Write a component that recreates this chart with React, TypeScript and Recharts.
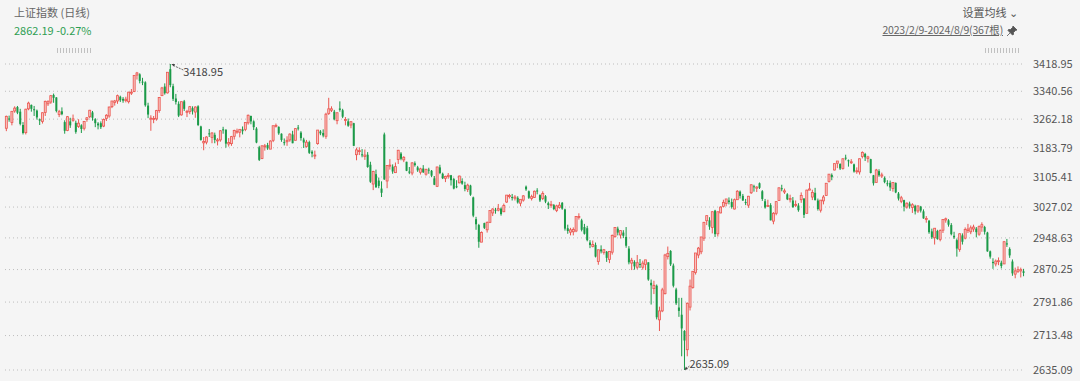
import React from "react";
import { ComposedChart, Bar, XAxis, YAxis, CartesianGrid } from "recharts";

// [day, open, high, low, close]
type Row = [number, number, number, number, number];

const feb23: Row[] = [
  [9, 3237, 3272, 3229, 3270], [10, 3264, 3272, 3255, 3261], [13, 3253, 3285, 3245, 3284],
  [14, 3285, 3298, 3280, 3293], [15, 3296, 3299, 3276, 3280], [16, 3283, 3291, 3245, 3249],
  [17, 3246, 3254, 3220, 3224], [20, 3225, 3291, 3220, 3290], [21, 3291, 3311, 3287, 3307],
  [22, 3302, 3303, 3283, 3291], [23, 3290, 3299, 3271, 3287], [24, 3286, 3289, 3261, 3267],
  [27, 3262, 3264, 3246, 3258], [28, 3256, 3281, 3250, 3280],
];
const mar23: Row[] = [
  [1, 3281, 3314, 3271, 3312], [2, 3305, 3315, 3299, 3311], [3, 3310, 3330, 3305, 3328],
  [6, 3330, 3334, 3308, 3322], [7, 3323, 3324, 3281, 3285], [8, 3275, 3288, 3268, 3283],
  [9, 3284, 3295, 3273, 3276], [10, 3254, 3259, 3222, 3230], [13, 3231, 3271, 3229, 3269],
  [14, 3256, 3266, 3238, 3245], [15, 3259, 3275, 3255, 3263], [16, 3252, 3258, 3222, 3227],
  [17, 3242, 3262, 3238, 3251], [20, 3245, 3248, 3224, 3235], [21, 3237, 3257, 3231, 3256],
  [22, 3261, 3268, 3255, 3266], [23, 3269, 3288, 3265, 3287], [24, 3281, 3285, 3258, 3266],
  [27, 3262, 3265, 3240, 3251], [28, 3250, 3254, 3234, 3245], [29, 3251, 3256, 3235, 3240],
  [30, 3243, 3264, 3240, 3261], [31, 3264, 3276, 3257, 3273],
];
const apr23: Row[] = [
  [3, 3271, 3297, 3266, 3296], [4, 3297, 3313, 3293, 3313], [6, 3309, 3316, 3300, 3313],
  [7, 3313, 3331, 3305, 3328], [10, 3325, 3328, 3310, 3315], [11, 3319, 3324, 3308, 3314],
  [12, 3314, 3325, 3309, 3318], [13, 3311, 3339, 3306, 3338], [14, 3337, 3347, 3330, 3338],
  [17, 3340, 3386, 3338, 3386], [18, 3387, 3396, 3374, 3393], [19, 3389, 3392, 3363, 3370],
  [20, 3368, 3379, 3358, 3367], [21, 3366, 3369, 3297, 3301], [24, 3300, 3308, 3265, 3275],
  [25, 3264, 3273, 3230, 3265], [26, 3261, 3271, 3251, 3264], [27, 3263, 3288, 3258, 3286],
  [28, 3286, 3324, 3280, 3323],
];
const may23: Row[] = [
  [4, 3328, 3353, 3327, 3350], [5, 3354, 3363, 3331, 3335], [8, 3336, 3395, 3334, 3395],
  [9, 3404, 3418.95, 3352, 3358], [10, 3355, 3362, 3313, 3319], [11, 3320, 3333, 3303, 3310],
  [12, 3305, 3312, 3268, 3272], [15, 3274, 3311, 3272, 3311], [16, 3312, 3316, 3285, 3291],
  [17, 3283, 3288, 3268, 3284], [18, 3283, 3299, 3276, 3297], [19, 3293, 3298, 3275, 3284],
  [22, 3282, 3298, 3266, 3296], [23, 3298, 3301, 3243, 3246], [24, 3242, 3244, 3203, 3205],
  [25, 3197, 3213, 3177, 3201], [26, 3199, 3215, 3193, 3213], [29, 3223, 3235, 3213, 3221],
  [30, 3212, 3226, 3196, 3224], [31, 3219, 3225, 3196, 3205],
];
const jun23: Row[] = [
  [1, 3203, 3210, 3190, 3205], [2, 3205, 3232, 3200, 3230], [5, 3234, 3241, 3222, 3232],
  [6, 3233, 3234, 3184, 3195], [7, 3194, 3210, 3187, 3198], [8, 3195, 3216, 3189, 3214],
  [9, 3215, 3233, 3206, 3231], [12, 3227, 3236, 3222, 3229], [13, 3226, 3234, 3212, 3234],
  [14, 3234, 3242, 3220, 3229], [15, 3234, 3253, 3229, 3253], [16, 3252, 3275, 3247, 3273],
  [19, 3271, 3272, 3248, 3256], [20, 3256, 3259, 3232, 3240], [21, 3236, 3240, 3196, 3198],
  [26, 3185, 3189, 3148, 3151], [27, 3155, 3190, 3153, 3189], [28, 3187, 3194, 3176, 3189],
  [29, 3191, 3197, 3178, 3182], [30, 3180, 3204, 3180, 3202],
];
const jul23: Row[] = [
  [3, 3204, 3244, 3199, 3244], [4, 3243, 3250, 3239, 3245], [5, 3241, 3242, 3219, 3223],
  [6, 3222, 3223, 3200, 3205], [7, 3199, 3209, 3190, 3197], [10, 3200, 3215, 3189, 3204],
  [11, 3205, 3223, 3200, 3221], [12, 3220, 3230, 3196, 3196], [13, 3204, 3237, 3204, 3236],
  [14, 3239, 3246, 3231, 3238], [17, 3225, 3229, 3203, 3210], [18, 3206, 3211, 3183, 3198],
  [19, 3187, 3205, 3184, 3199], [20, 3199, 3203, 3167, 3170], [21, 3173, 3177, 3158, 3168],
  [24, 3164, 3176, 3153, 3164], [25, 3195, 3231, 3192, 3232], [26, 3228, 3232, 3218, 3223],
  [27, 3224, 3234, 3212, 3217], [28, 3215, 3280, 3208, 3276], [31, 3278, 3322, 3274, 3291],
];
const aug23: Row[] = [
  [1, 3287, 3298, 3282, 3291], [2, 3283, 3288, 3259, 3262], [3, 3258, 3281, 3248, 3280],
  [4, 3292, 3312, 3283, 3288], [7, 3287, 3291, 3265, 3269], [8, 3261, 3268, 3245, 3261],
  [9, 3256, 3264, 3241, 3244], [10, 3246, 3257, 3237, 3255], [11, 3251, 3252, 3188, 3189],
  [14, 3165, 3184, 3150, 3178], [15, 3175, 3185, 3164, 3176], [16, 3166, 3180, 3158, 3164],
  [17, 3160, 3179, 3151, 3164], [18, 3165, 3172, 3130, 3132], [21, 3138, 3146, 3090, 3093],
  [22, 3087, 3122, 3071, 3120], [23, 3113, 3125, 3078, 3078], [24, 3096, 3104, 3076, 3082],
  [25, 3075, 3094, 3053, 3064], [28, 3220, 3225, 3098, 3099], [29, 3095, 3137, 3076, 3136],
  [30, 3137, 3153, 3125, 3137], [31, 3133, 3139, 3114, 3120],
];
const sep23: Row[] = [
  [1, 3117, 3144, 3116, 3133], [4, 3152, 3178, 3140, 3177], [5, 3168, 3172, 3150, 3154],
  [6, 3151, 3161, 3145, 3158], [7, 3146, 3146, 3121, 3122], [8, 3120, 3132, 3113, 3117],
  [11, 3116, 3145, 3110, 3143], [12, 3142, 3147, 3133, 3137], [13, 3131, 3135, 3119, 3123],
  [14, 3118, 3130, 3112, 3127], [15, 3128, 3137, 3116, 3118], [18, 3113, 3127, 3109, 3126],
  [19, 3125, 3130, 3114, 3124], [20, 3122, 3124, 3105, 3109], [21, 3102, 3108, 3084, 3085],
  [22, 3081, 3133, 3079, 3132], [25, 3131, 3138, 3113, 3116], [26, 3114, 3117, 3100, 3102],
  [27, 3102, 3109, 3092, 3107], [28, 3107, 3116, 3101, 3110],
];
const oct23: Row[] = [
  [9, 3110, 3111, 3083, 3097], [10, 3100, 3103, 3073, 3075], [11, 3081, 3097, 3076, 3079],
  [12, 3090, 3109, 3089, 3108], [13, 3095, 3102, 3085, 3088], [16, 3084, 3093, 3068, 3074],
  [17, 3073, 3088, 3066, 3084], [18, 3083, 3085, 3056, 3059], [19, 3052, 3054, 3001, 3005],
  [20, 2996, 3002, 2969, 2983], [23, 2981, 2984, 2924, 2939], [24, 2938, 2965, 2938, 2962],
  [25, 2986, 2987, 2971, 2974], [26, 2969, 2990, 2962, 2988], [27, 2988, 3018, 2986, 3018],
  [30, 3012, 3024, 3004, 3022], [31, 3020, 3025, 3010, 3019],
];
const nov23: Row[] = [
  [1, 3019, 3035, 3016, 3023], [2, 3023, 3026, 3005, 3009], [3, 3015, 3036, 3014, 3031],
  [6, 3040, 3058, 3038, 3058], [7, 3054, 3061, 3049, 3057], [8, 3053, 3061, 3044, 3052],
  [9, 3050, 3058, 3044, 3053], [10, 3051, 3055, 3036, 3039], [13, 3037, 3047, 3029, 3047],
  [14, 3045, 3058, 3041, 3056], [15, 3080, 3083, 3069, 3073], [16, 3068, 3070, 3048, 3051],
  [17, 3049, 3059, 3044, 3054], [20, 3052, 3070, 3051, 3068], [21, 3070, 3076, 3060, 3068],
  [22, 3058, 3060, 3040, 3044], [23, 3049, 3068, 3045, 3062], [24, 3055, 3058, 3037, 3041],
  [27, 3037, 3041, 3022, 3032], [28, 3031, 3043, 3025, 3034], [29, 3032, 3035, 3019, 3022],
  [30, 3018, 3033, 3014, 3030],
];
const dec23: Row[] = [
  [1, 3026, 3040, 3023, 3032], [4, 3038, 3040, 3020, 3023], [5, 3021, 3023, 2967, 2972],
  [6, 2973, 2982, 2959, 2966], [7, 2963, 2974, 2955, 2969], [8, 2964, 2975, 2955, 2970],
  [11, 2966, 3004, 2963, 3003], [12, 3001, 3011, 2995, 3003], [13, 2993, 2997, 2965, 2969],
  [14, 2976, 2984, 2957, 2959], [15, 2973, 2979, 2940, 2943], [18, 2937, 2943, 2923, 2931],
  [19, 2927, 2942, 2925, 2932], [20, 2931, 2937, 2900, 2902], [21, 2890, 2919, 2882, 2919],
  [22, 2920, 2930, 2910, 2915], [25, 2912, 2921, 2907, 2919], [26, 2914, 2916, 2889, 2899],
  [27, 2895, 2916, 2886, 2915], [28, 2913, 2957, 2907, 2955], [29, 2952, 2976, 2949, 2975],
];
const jan24: Row[] = [
  [2, 2972, 2977, 2955, 2962], [3, 2956, 2968, 2947, 2967], [4, 2962, 2968, 2948, 2954],
  [5, 2951, 2976, 2924, 2929], [8, 2922, 2928, 2883, 2888], [9, 2886, 2899, 2869, 2893],
  [10, 2889, 2893, 2870, 2878], [11, 2876, 2906, 2871, 2887], [12, 2884, 2896, 2874, 2882],
  [15, 2876, 2892, 2870, 2886], [16, 2883, 2894, 2869, 2894], [17, 2888, 2888, 2843, 2846],
  [18, 2838, 2846, 2786, 2832], [19, 2824, 2843, 2811, 2832], [22, 2831, 2834, 2751, 2756],
  [23, 2750, 2781, 2724, 2771], [24, 2771, 2826, 2768, 2821], [25, 2812, 2909, 2810, 2906],
  [26, 2902, 2927, 2895, 2910], [29, 2916, 2918, 2879, 2883], [30, 2880, 2885, 2827, 2831],
  [31, 2822, 2826, 2785, 2789],
];
const feb24: Row[] = [
  [1, 2779, 2802, 2757, 2771], [2, 2762, 2802, 2666, 2730], [5, 2724, 2726, 2635.09, 2702],
  [6, 2681, 2791, 2666, 2789], [7, 2780, 2846, 2772, 2830], [8, 2827, 2866, 2824, 2866],
  [19, 2863, 2911, 2858, 2911], [20, 2906, 2926, 2898, 2923], [21, 2914, 2951, 2908, 2951],
  [22, 2948, 2989, 2941, 2988], [23, 2992, 3005, 2981, 3005], [26, 2993, 3001, 2969, 2977],
  [27, 2975, 3016, 2960, 3015], [28, 3018, 3020, 2951, 2958], [29, 2959, 3015, 2952, 3015],
];
const mar24: Row[] = [
  [1, 3012, 3029, 3011, 3027], [4, 3029, 3046, 3026, 3039], [5, 3036, 3048, 3029, 3048],
  [6, 3044, 3052, 3034, 3040], [7, 3040, 3049, 3023, 3027], [8, 3022, 3049, 3021, 3046],
  [11, 3046, 3071, 3046, 3068], [12, 3067, 3070, 3049, 3056], [13, 3056, 3061, 3043, 3044],
  [14, 3040, 3048, 3032, 3038], [15, 3032, 3056, 3025, 3055], [18, 3064, 3086, 3061, 3085],
  [19, 3081, 3085, 3067, 3080], [20, 3076, 3081, 3066, 3079], [21, 3089, 3091, 3074, 3077],
  [22, 3068, 3071, 3043, 3048], [25, 3042, 3048, 3023, 3026], [26, 3029, 3046, 3027, 3031],
  [27, 3032, 3037, 2993, 2993], [28, 2991, 3014, 2983, 3011], [29, 3011, 3042, 3006, 3041],
];
const apr24: Row[] = [
  [1, 3044, 3078, 3044, 3077], [2, 3076, 3085, 3068, 3075], [3, 3066, 3075, 3061, 3069],
  [8, 3060, 3063, 3045, 3047], [9, 3046, 3059, 3039, 3049], [10, 3044, 3053, 3025, 3027],
  [11, 3032, 3044, 3027, 3034], [12, 3031, 3037, 3015, 3019], [15, 3046, 3065, 3038, 3057],
  [16, 3049, 3050, 2999, 3007], [17, 3011, 3072, 3010, 3071], [18, 3071, 3090, 3071, 3074],
  [19, 3053, 3072, 3045, 3065], [22, 3064, 3077, 3044, 3045], [23, 3044, 3049, 3018, 3022],
  [24, 3019, 3045, 3013, 3045], [25, 3043, 3058, 3034, 3053], [26, 3057, 3089, 3057, 3089],
  [29, 3094, 3113, 3091, 3113], [30, 3111, 3115, 3097, 3105],
];
const may24: Row[] = [
  [6, 3124, 3141, 3123, 3141], [7, 3142, 3148, 3129, 3148], [8, 3140, 3142, 3124, 3128],
  [9, 3128, 3155, 3125, 3154], [10, 3157, 3165, 3150, 3155], [13, 3150, 3152, 3133, 3148],
  [14, 3144, 3153, 3140, 3146], [15, 3139, 3141, 3117, 3120], [16, 3122, 3131, 3114, 3122],
  [17, 3119, 3155, 3112, 3154], [20, 3160, 3174, 3155, 3171], [21, 3167, 3170, 3148, 3158],
  [22, 3155, 3162, 3144, 3159], [23, 3153, 3154, 3115, 3116], [24, 3110, 3111, 3083, 3089],
  [27, 3091, 3127, 3091, 3124], [28, 3121, 3126, 3106, 3110], [29, 3108, 3117, 3103, 3111],
  [30, 3103, 3107, 3089, 3092], [31, 3089, 3097, 3081, 3087],
];
const jun24: Row[] = [
  [3, 3090, 3096, 3069, 3078], [4, 3075, 3091, 3067, 3091], [5, 3090, 3091, 3063, 3065],
  [6, 3062, 3066, 3044, 3049], [7, 3042, 3056, 3037, 3051], [11, 3045, 3046, 3016, 3028],
  [12, 3027, 3039, 3023, 3037], [13, 3036, 3041, 3023, 3029], [14, 3026, 3037, 3012, 3033],
  [17, 3030, 3033, 3008, 3016], [18, 3017, 3031, 3012, 3030], [19, 3028, 3030, 3013, 3018],
  [20, 3016, 3021, 2997, 2998], [21, 2996, 3004, 2987, 2998], [24, 2992, 2994, 2959, 2963],
  [25, 2965, 2972, 2946, 2950], [26, 2949, 2973, 2932, 2973], [27, 2966, 2969, 2944, 2946],
  [28, 2945, 2970, 2940, 2967],
];
const jul24: Row[] = [
  [1, 2968, 2995, 2961, 2995], [2, 2994, 3000, 2987, 2997], [3, 2993, 2996, 2977, 2982],
  [4, 2981, 2986, 2955, 2958], [5, 2954, 2964, 2946, 2950], [8, 2943, 2947, 2902, 2922],
  [9, 2920, 2960, 2914, 2959], [10, 2955, 2960, 2932, 2939], [11, 2948, 2975, 2945, 2970],
  [12, 2967, 2984, 2961, 2971], [15, 2964, 2980, 2958, 2974], [16, 2971, 2982, 2964, 2976],
  [17, 2972, 2976, 2950, 2963], [18, 2958, 2980, 2954, 2977], [19, 2976, 2988, 2964, 2982],
  [22, 2976, 2979, 2957, 2964], [23, 2962, 2964, 2914, 2915], [24, 2915, 2917, 2897, 2902],
  [25, 2889, 2898, 2872, 2886], [26, 2884, 2895, 2878, 2891], [29, 2890, 2900, 2881, 2892],
  [30, 2887, 2892, 2873, 2879], [31, 2884, 2941, 2884, 2939],
];
const aug24: Row[] = [
  [1, 2935, 2946, 2926, 2932], [2, 2921, 2925, 2899, 2905], [5, 2890, 2895, 2855, 2861],
  [6, 2859, 2875, 2849, 2867], [7, 2866, 2878, 2862, 2870], [8, 2867, 2875, 2851, 2870],
  [9, 2866, 2872, 2854, 2862.19],
];

const MONTHS: [string, Row[]][] = [
  ["2023/2", feb23], ["2023/3", mar23], ["2023/4", apr23], ["2023/5", may23],
  ["2023/6", jun23], ["2023/7", jul23], ["2023/8", aug23], ["2023/9", sep23],
  ["2023/10", oct23], ["2023/11", nov23], ["2023/12", dec23], ["2024/1", jan24],
  ["2024/2", feb24], ["2024/3", mar24], ["2024/4", apr24], ["2024/5", may24],
  ["2024/6", jun24], ["2024/7", jul24], ["2024/8", aug24],
];

const Y_TICKS = [2635.09, 2713.48, 2791.86, 2870.25, 2948.63, 3027.02, 3105.41, 3183.79, 3262.18, 3340.56, 3418.95];

const RED = "#eb5650";
const GREEN = "#1b9a48";

const data = MONTHS.flatMap(([m, rows]) =>
  rows.map(([d, o, h, l, c]) => ({ date: `${m}/${d}`, open: o, high: h, low: l, close: c, range: [l, h] }))
);
const maxHigh = Math.max(...data.map((d) => d.high));
const minLow = Math.min(...data.map((d) => d.low));

function Candle(props: any) {
  const { x, y, width, height, payload } = props;
  if (!payload || height == null) return null;
  const { open, close, high, low } = payload;
  const top = Math.min(y, y + height);
  const bottom = Math.max(y, y + height);
  const lh = Math.log(high);
  const span = lh - Math.log(low) || 1;
  // log scale: interpolate in log space between the scaled high/low
  const toY = (v: number) => top + ((lh - Math.log(v)) / span) * (bottom - top);
  const cx = x + width / 2;
  const up = close >= open;
  const color = up ? RED : GREEN;
  const yo = toY(open);
  const yc = toY(close);
  const bTop = Math.min(yo, yc);
  const bH = Math.max(1, Math.abs(yo - yc));
  const bw = Math.max(2, width);
  return (
    <g>
      <line x1={cx} x2={cx} y1={top} y2={bottom} stroke={color} strokeWidth={1} />
      <rect
        x={cx - bw / 2}
        y={bTop}
        width={bw}
        height={bH}
        fill={up ? "#f8c3bf" : color}
        stroke={color}
        strokeWidth={up ? 0.8 : 0}
      />
      {high === maxHigh && (
        <g>
          <line x1={cx + 13} y1={top + 6} x2={cx + 2} y2={top + 1} stroke="#444" strokeWidth={0.8} strokeDasharray="2 1" />
          <path d={`M${cx + 1} ${top} l4 -0.5 l-1.5 3 z`} fill="#444" />
          <text x={cx + 13} y={top + 12} fontSize={11} fill="#444">{high.toFixed(2)}</text>
        </g>
      )}
      {low === minLow && (
        <g>
          <line x1={cx + 5} y1={bottom - 4} x2={cx + 1} y2={bottom - 0.5} stroke="#444" strokeWidth={0.8} strokeDasharray="2 1" />
          <path d={`M${cx} ${bottom} l1.5 -3.5 l2 2.5 z`} fill="#444" />
          <text x={cx + 5} y={bottom - 2} fontSize={11} fill="#444">{low.toFixed(2)}</text>
        </g>
      )}
    </g>
  );
}

const dashes: React.CSSProperties = {
  position: "absolute",
  height: 5,
  background: "repeating-linear-gradient(90deg, #aaa 0 1px, transparent 1px 3px)",
  opacity: 0.7,
};

export default function App() {
  return (
    <div
      style={{
        position: "relative",
        width: 1080,
        height: 381,
        background: "#f5f5f5",
        fontFamily: "'Noto Sans CJK SC', 'Noto Sans', sans-serif",
        overflow: "hidden",
      }}
    >
      <style>{`body{margin:0}`}</style>
      <div style={{ position: "absolute", left: 14, top: 4, fontSize: 11, color: "#666" }}>上证指数 (日线)</div>
      <div style={{ position: "absolute", left: 14, top: 22, fontSize: 11, color: "#2e9e52" }}>2862.19 -0.27%</div>
      <div style={{ ...dashes, left: 57, top: 48, width: 36 }} />
      <div style={{ position: "absolute", right: 62, top: 4, fontSize: 11, color: "#555" }}>设置均线 ⌄</div>
      <div
        style={{
          position: "absolute",
          right: 77,
          top: 22,
          fontSize: 10.5,
          letterSpacing: -0.2,
          color: "#666",
          textDecoration: "underline",
          whiteSpace: "nowrap",
        }}
      >
        2023/2/9-2024/8/9(367根)
      </div>
      <svg style={{ position: "absolute", left: 1007, top: 26 }} width={10} height={10} viewBox="0 0 10 10">
        <path d="M6 0 L10 4 L8.5 4.5 L6.5 6.5 L6.5 8.5 L5.5 9 L1 4.5 L1.5 3.5 L3.5 3.5 L5.5 1.5 Z M3 7 L0 10" fill="#555" stroke="#555" strokeWidth={0.8} />
      </svg>
      <div style={{ ...dashes, left: 985, top: 48, width: 36 }} />
      <div style={{ position: "absolute", left: 0, top: 0 }}>
        <ComposedChart
          width={1080}
          height={381}
          data={data}
          margin={{ top: 64, right: 0, bottom: 11, left: 5 }}
          barCategoryGap="12%"
        >
          <CartesianGrid vertical={false} stroke="#bdbdbd" strokeDasharray="1 3" />
          <XAxis dataKey="date" hide />
          <YAxis
            orientation="right"
            scale="log"
            domain={[2635.09, 3418.95]}
            ticks={Y_TICKS}
            allowDataOverflow
            axisLine={false}
            tickLine={false}
            width={55}
            tick={{ fill: "#555", fontSize: 11 }}
            tickFormatter={(v: number) => v.toFixed(2)}
          />
          <Bar dataKey="range" shape={Candle} isAnimationActive={false} />
        </ComposedChart>
      </div>
    </div>
  );
}
